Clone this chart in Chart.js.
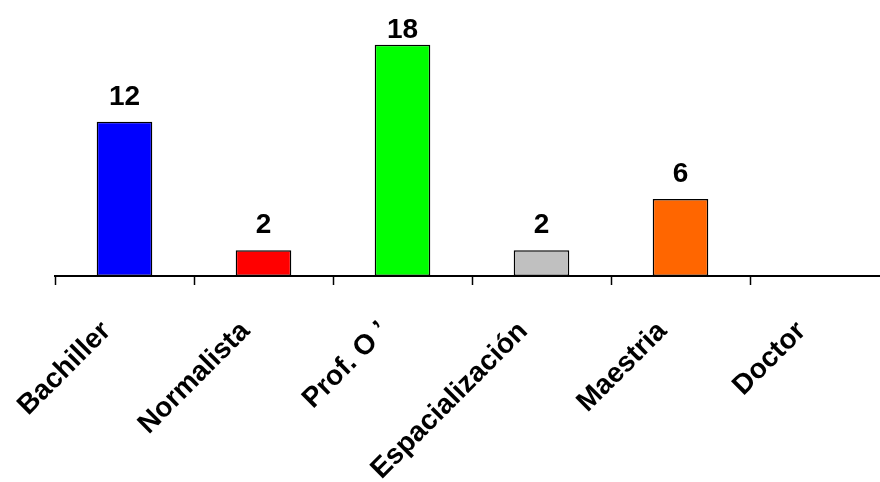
<!DOCTYPE html>
<html>
<head>
<meta charset="utf-8">
<script src="https://cdn.jsdelivr.net/npm/chart.js@4"></script>
<style>
  html, body { margin: 0; padding: 0; overflow: hidden; background: #fff; }
  #wrap { width: 889px; height: 482px; }
</style>
</head>
<body>
<div id="wrap"><canvas id="myChart"></canvas></div>
<script>
(() => {
    'use strict'

    const categories = ['Bachiller', 'Normalista', 'Prof. O \u2019', 'Espacialización', 'Maestria', 'Doctor']
    const values = [12, 2, 18, 2, 6, 0]
    const barColors = ['#0000ff', '#ff0000', '#00ff00', '#c0c0c0', '#ff6600', '#800080']

    const FONT = '"Liberation Sans", Arial, sans-serif'

    // value on top of each bar (skip empty ones), kept inside the top edge
    const valueLabels = {
        id: 'valueLabels',
        afterDatasetsDraw(chart) {
            const ctx = chart.ctx
            const meta = chart.getDatasetMeta(0)
            ctx.save()
            ctx.font = 'bold 28px ' + FONT
            ctx.fillStyle = '#000'
            ctx.textAlign = 'center'
            ctx.textBaseline = 'alphabetic'
            meta.data.forEach((bar, i) => {
                if (!values[i]) return
                ctx.fillText(String(values[i]), bar.x, Math.max(bar.y - 17, 38))
            })
            ctx.restore()
        }
    }

    const ctx = document.getElementById('myChart')

    // eslint-disable-next-line no-unused-vars
    const myChart = new Chart(ctx, {
        type: 'bar',
        data: {
            labels: categories,
            datasets: [{
                data: values,
                backgroundColor: barColors,
                borderColor: '#000',
                borderWidth: 1.5,
                borderSkipped: false,
                barPercentage: 0.4,
                categoryPercentage: 1
            }]
        },
        options: {
            responsive: true,
            maintainAspectRatio: false,
            animation: false,
            layout: {
                padding: { top: 19, left: 55, right: 0, bottom: 0 }
            },
            plugins: {
                legend: { display: false },
                tooltip: { enabled: false }
            },
            scales: {
                x: {
                    afterFit: s => {
                        s.height = 206
                        s.paddingLeft = 0
                        s.paddingRight = 0
                    },
                    border: { color: '#000', width: 2 },
                    grid: {
                        drawOnChartArea: false,
                        drawTicks: true,
                        tickLength: 9,
                        tickWidth: 1.5,
                        tickColor: '#000'
                    },
                    ticks: {
                        color: '#000',
                        minRotation: 45,
                        maxRotation: 45,
                        autoSkip: false,
                        padding: 30,
                        labelOffset: -18,
                        font: { family: FONT, size: 28, weight: 'bold' }
                    }
                },
                y: {
                    display: false,
                    min: 0,
                    max: 20
                }
            }
        },
        plugins: [valueLabels]
    })
})()
</script>
</body>
</html>
